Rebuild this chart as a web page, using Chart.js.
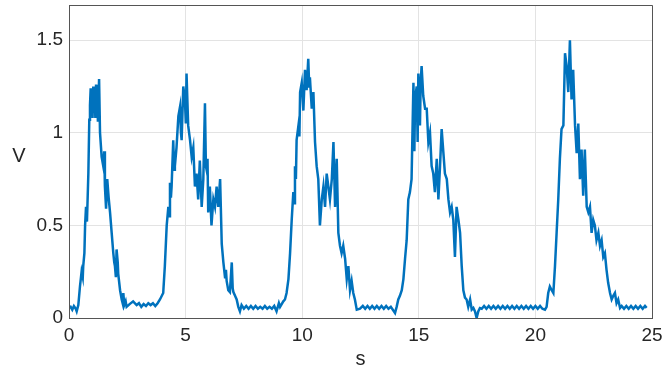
<!DOCTYPE html>
<html>
<head>
<meta charset="utf-8">
<script src="https://cdn.jsdelivr.net/npm/chart.js@4.4.1/dist/chart.umd.min.js"></script>
<style>
  html, body { margin: 0; padding: 0; background: #ffffff; }
  #wrap { width: 662px; height: 376px; position: relative; }
</style>
</head>
<body>
<div id="wrap"><canvas id="c" width="662" height="376"></canvas></div>
<script>
// ---- Data ----
const timeS = [
  0.00,0.07,0.14,0.21,0.29,0.33,0.40,0.47,0.54,0.59,0.61,0.66,0.69,0.73,0.77,0.83,0.87,0.90,0.93,0.96,
  0.99,1.01,1.04,1.07,1.10,1.13,1.16,1.19,1.21,1.24,1.29,1.33,1.40,1.47,1.51,1.54,1.59,1.64,1.70,1.76,
  1.83,1.90,1.94,1.97,2.01,2.04,2.09,2.11,2.19,2.26,2.30,2.33,2.37,2.43,2.47,2.60,2.75,2.90,3.00,3.10,
  3.20,3.30,3.40,3.50,3.60,3.70,3.80,3.90,4.04,4.11,4.19,4.26,4.30,4.33,4.37,4.40,4.47,4.51,4.54,4.61,
  4.69,4.76,4.80,4.83,4.90,4.97,5.01,5.04,5.11,5.19,5.26,5.33,5.40,5.47,5.54,5.61,5.69,5.76,5.83,5.87,
  5.90,5.94,5.97,6.04,6.11,6.19,6.26,6.33,6.40,6.48,6.55,6.62,6.69,6.73,6.76,6.83,6.90,6.98,7.02,7.05,
  7.12,7.19,7.26,7.33,7.40,7.50,7.60,7.70,7.80,7.90,8.00,8.10,8.20,8.30,8.40,8.50,8.60,8.70,8.80,8.90,
  9.00,9.05,9.19,9.26,9.33,9.41,9.48,9.55,9.62,9.66,9.69,9.73,9.76,9.84,9.88,9.91,9.98,10.05,10.12,10.19,
  10.26,10.30,10.33,10.41,10.48,10.55,10.62,10.69,10.76,10.84,10.91,10.98,11.05,11.12,11.19,11.27,11.34,11.41,11.48,11.55,
  11.62,11.69,11.76,11.84,11.91,11.98,12.05,12.12,12.19,12.26,12.34,12.48,12.60,12.70,12.80,12.90,13.00,13.10,13.20,13.30,
  13.40,13.50,13.60,13.70,13.80,13.98,14.05,14.12,14.19,14.27,14.34,14.41,14.48,14.55,14.62,14.69,14.77,14.81,14.84,14.91,
  14.95,14.98,15.05,15.08,15.12,15.19,15.27,15.34,15.41,15.48,15.55,15.62,15.69,15.77,15.84,15.91,15.98,16.05,16.12,16.20,
  16.27,16.34,16.41,16.48,16.55,16.62,16.70,16.77,16.84,16.91,16.98,17.05,17.12,17.20,17.27,17.34,17.41,17.48,17.55,17.62,
  17.70,17.80,17.90,18.00,18.10,18.20,18.30,18.40,18.50,18.60,18.70,18.80,18.90,19.00,19.10,19.20,19.30,19.40,19.50,19.60,
  19.70,19.80,19.90,20.00,20.10,20.20,20.30,20.41,20.48,20.55,20.62,20.70,20.77,20.84,20.91,20.98,21.05,21.12,21.20,21.27,
  21.34,21.41,21.48,21.55,21.62,21.70,21.77,21.84,21.91,21.98,22.05,22.12,22.20,22.27,22.34,22.41,22.48,22.55,22.62,22.70,
  22.77,22.84,22.91,22.98,23.05,23.12,23.20,23.27,23.34,23.41,23.48,23.55,23.63,23.70,23.80,23.90,24.00,24.10,24.20,24.30,
  24.40,24.50,24.60,24.70,24.77
];
const voltage = [
  0.054,0.06,0.045,0.065,0.05,0.036,0.07,0.17,0.25,0.22,0.28,0.35,0.50,0.60,0.52,0.78,1.07,1.15,1.24,1.10,
  1.23,1.08,1.25,1.12,1.22,1.08,1.26,1.10,1.22,1.06,1.29,1.00,0.87,0.82,0.90,0.71,0.59,0.75,0.65,0.57,
  0.46,0.35,0.30,0.28,0.22,0.37,0.30,0.24,0.15,0.10,0.08,0.135,0.07,0.09,0.06,0.075,0.09,0.07,0.08,0.06,
  0.075,0.065,0.08,0.07,0.08,0.065,0.08,0.10,0.135,0.28,0.50,0.60,0.55,0.73,0.65,0.71,0.96,0.80,0.82,0.92,
  1.09,1.14,1.00,0.96,1.25,1.18,1.05,1.32,1.04,0.96,0.87,0.92,0.71,0.78,0.64,0.85,0.60,0.75,1.16,0.82,
  0.80,0.86,0.57,0.71,0.50,0.64,0.60,0.71,0.60,0.75,0.40,0.30,0.22,0.26,0.20,0.15,0.14,0.30,0.16,0.14,
  0.12,0.10,0.06,0.036,0.07,0.05,0.065,0.05,0.065,0.05,0.065,0.05,0.06,0.05,0.065,0.05,0.06,0.05,0.065,0.036,
  0.08,0.06,0.09,0.10,0.135,0.21,0.35,0.53,0.68,0.62,0.82,0.75,0.96,1.04,0.98,1.22,1.27,1.12,1.34,1.23,
  1.40,1.25,1.30,1.13,1.22,0.95,0.82,0.75,0.50,0.64,0.71,0.60,0.78,0.71,0.64,0.75,0.95,0.60,0.86,0.46,
  0.39,0.35,0.39,0.32,0.21,0.28,0.15,0.20,0.135,0.10,0.045,0.05,0.065,0.05,0.065,0.05,0.065,0.05,0.065,0.05,
  0.065,0.05,0.065,0.05,0.06,0.027,0.06,0.10,0.12,0.15,0.21,0.32,0.42,0.64,0.68,0.75,1.27,0.90,1.18,1.25,
  0.95,1.32,1.04,1.27,1.36,1.20,1.13,1.13,0.95,1.00,0.82,0.78,0.68,0.86,0.64,0.82,1.02,0.90,0.78,0.75,
  0.64,0.57,0.60,0.53,0.33,0.60,0.53,0.46,0.28,0.15,0.11,0.10,0.06,0.10,0.045,0.054,0.036,0.0,0.036,0.054,
  0.05,0.065,0.05,0.065,0.05,0.065,0.05,0.065,0.05,0.065,0.05,0.065,0.05,0.065,0.05,0.065,0.05,0.065,0.05,0.065,
  0.05,0.065,0.05,0.065,0.05,0.065,0.05,0.045,0.06,0.135,0.17,0.15,0.135,0.28,0.46,0.64,0.86,1.02,1.04,1.43,
  1.36,1.22,1.50,1.18,1.34,1.04,0.89,1.05,0.75,0.91,0.66,0.91,0.60,0.57,0.60,0.46,0.53,0.50,0.42,0.46,
  0.39,0.42,0.33,0.35,0.26,0.19,0.135,0.10,0.12,0.135,0.08,0.10,0.054,0.065,0.05,0.065,0.05,0.065,0.05,0.065,
  0.05,0.065,0.05,0.065,0.055
];
const xTicks = [0, 5, 10, 15, 20, 25];
const yTicks = [0, 0.5, 1, 1.5];
const xLabel = 's';
const yLabel = 'V';

const points = timeS.map((t, i) => ({ x: t, y: voltage[i] }));

const FONT = "'Liberation Sans', Arial, Helvetica, sans-serif";
const TEXT = '#262626';

const boxPlugin = {
  id: 'box',
  afterDraw(chart) {
    const { ctx, chartArea: a } = chart;
    ctx.save();
    ctx.strokeStyle = '#555555';
    ctx.lineWidth = 1;
    ctx.beginPath();
    ctx.moveTo(a.left + 0.5, a.bottom + 0.5);
    ctx.lineTo(a.left + 0.5, a.top + 0.5);
    ctx.lineTo(a.right + 0.5, a.top + 0.5);
    ctx.lineTo(a.right + 0.5, a.bottom + 0.5);
    ctx.lineTo(a.left + 0.5, a.bottom + 0.5);
    ctx.stroke();
    // axis titles (unrotated, as in the reference)
    ctx.fillStyle = TEXT;
    ctx.font = "20px " + FONT;
    ctx.textAlign = 'center';
    ctx.textBaseline = 'middle';
    ctx.fillText(yLabel, 19, 156);
    ctx.fillText(xLabel, (a.left + a.right) / 2, 359);
    ctx.restore();
  }
};

new Chart(document.getElementById('c'), {
  type: 'line',
  data: {
    datasets: [{
      data: points,
      borderColor: '#0072BD',
      borderWidth: 2.5,
      pointRadius: 0,
      tension: 0,
      fill: false
    }]
  },
  options: {
    responsive: false,
    animation: false,
    events: [],
    layout: { autoPadding: false, padding: { top: 5, right: 10, left: 0, bottom: 0 } },
    plugins: { legend: { display: false }, tooltip: { enabled: false } },
    scales: {
      x: {
        type: 'linear',
        min: 0, max: 25,
        afterFit: s => { s.height = 58; s.paddingLeft = 0; s.paddingRight = 0; },
        afterBuildTicks: s => { s.ticks = xTicks.map(v => ({ value: v })); },
        ticks: { color: TEXT, font: { family: FONT, size: 19 }, padding: 6, maxRotation: 0,
                 callback: v => String(v) },
        grid: { color: '#e3e3e3', drawTicks: false, lineWidth: 1 },
        border: { display: true, color: '#555555' }
      },
      y: {
        type: 'linear',
        min: 0, max: 1.69,
        afterFit: s => { s.width = 69; s.paddingTop = 0; s.paddingBottom = 0; },
        afterBuildTicks: s => { s.ticks = yTicks.map(v => ({ value: v })); },
        ticks: { color: TEXT, font: { family: FONT, size: 19 }, padding: 6,
                 callback: v => String(v) },
        grid: { color: '#e3e3e3', drawTicks: false, lineWidth: 1 },
        border: { display: true, color: '#555555' }
      }
    }
  },
  plugins: [boxPlugin]
});
</script>
</body>
</html>
